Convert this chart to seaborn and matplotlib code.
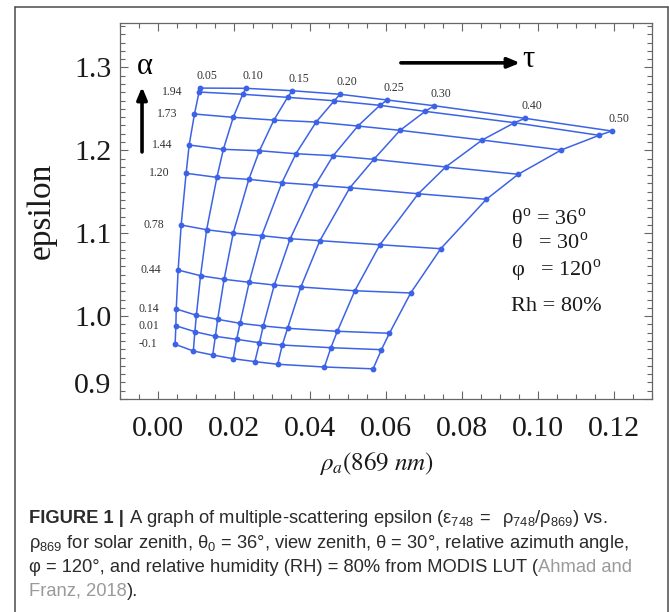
import matplotlib
matplotlib.use("Agg")
import matplotlib.pyplot as plt
from matplotlib.lines import Line2D
from matplotlib.ticker import MultipleLocator
import numpy as np
import pandas as pd
import seaborn as sns

# ---------------- data ----------------
alpha_labels = ["", "1.94", "1.73", "1.44", "1.20", "0.78", "0.44", "0.14", "0.01", "-0.1"]
tau_labels = ["0.05", "0.10", "0.15", "0.20", "0.25", "0.30", "0.40", "0.50"]

rho_row1 = [0.0111, 0.0231, 0.0353, 0.0479, 0.0603, 0.0727, 0.0966, 0.1194]
eps_row1 = [1.2751, 1.2748, 1.2719, 1.2676, 1.2607, 1.2538, 1.2386, 1.2233]
rho_row2 = [0.0108, 0.0223, 0.0341, 0.0464, 0.0584, 0.0703, 0.0938, 0.1161]
eps_row2 = [1.2703, 1.2676, 1.2639, 1.2598, 1.2543, 1.2470, 1.2333, 1.2181]
rho_row3 = [0.0096, 0.0198, 0.0305, 0.0416, 0.0526, 0.0637, 0.0853, 0.1061]
eps_row3 = [1.2438, 1.2398, 1.2365, 1.2341, 1.2293, 1.2241, 1.2124, 1.2004]
rho_row4 = [0.0082, 0.0172, 0.0267, 0.0363, 0.0461, 0.0568, 0.0757, 0.0948]
eps_row4 = [1.2064, 1.2012, 1.1995, 1.1959, 1.1935, 1.1891, 1.1799, 1.1711]
rho_row5 = [0.0074, 0.0155, 0.0239, 0.0326, 0.0414, 0.0505, 0.0685, 0.0864]
eps_row5 = [1.1723, 1.1674, 1.1650, 1.1609, 1.1581, 1.1549, 1.1476, 1.1409]
rho_row6 = [0.0061, 0.0128, 0.0198, 0.0273, 0.0348, 0.0426, 0.0584, 0.0744]
eps_row6 = [1.1099, 1.1042, 1.1002, 1.0970, 1.0934, 1.0910, 1.0861, 1.0813]
rho_row7 = [0.0053, 0.0112, 0.0174, 0.0240, 0.0306, 0.0376, 0.0518, 0.0665]
eps_row7 = [1.0556, 1.0487, 1.0444, 1.0408, 1.0375, 1.0351, 1.0306, 1.0279]
rho_row8 = [0.0048, 0.0101, 0.0157, 0.0216, 0.0277, 0.0341, 0.0472, 0.0609]
eps_row8 = [1.0086, 1.0010, 0.9961, 0.9913, 0.9881, 0.9853, 0.9817, 0.9793]
rho_row9 = [0.0047, 0.0097, 0.0151, 0.0207, 0.0267, 0.0327, 0.0455, 0.0588]
eps_row9 = [0.9884, 0.9812, 0.9756, 0.9720, 0.9679, 0.9651, 0.9619, 0.9595]
rho_row10 = [0.0045, 0.0093, 0.0144, 0.0198, 0.0255, 0.0315, 0.0438, 0.0566]
eps_row10 = [0.9660, 0.9579, 0.9531, 0.9486, 0.9451, 0.9419, 0.9386, 0.9364]

rho_rows = [rho_row1, rho_row2, rho_row3, rho_row4, rho_row5,
            rho_row6, rho_row7, rho_row8, rho_row9, rho_row10]
eps_rows = [eps_row1, eps_row2, eps_row3, eps_row4, eps_row5,
            eps_row6, eps_row7, eps_row8, eps_row9, eps_row10]

records = []
for i, (rr, ee) in enumerate(zip(rho_rows, eps_rows)):
    for j, (r, e) in enumerate(zip(rr, ee)):
        records.append({"rho": r, "eps": e, "row": i, "col": j})
df = pd.DataFrame(records)
df_cols = df.sort_values(["col", "row"]).reset_index(drop=True)

# ---------------- style ----------------
sns.set_theme(style="ticks")
plt.rcParams["font.family"] = ["Liberation Serif", "DejaVu Serif"]
plt.rcParams["mathtext.fontset"] = "stix"

BLUE = "#3c63e6"
SPINE = "#666666"
W, H = 669, 612
fig = plt.figure(figsize=(W / 100, H / 100), dpi=100)
fig.patch.set_facecolor("white")

L, R, T, B = 120, 652, 23, 399
ax = fig.add_axes([L / W, 1 - B / H, (R - L) / W, (B - T) / H])

sns.lineplot(data=df, x="rho", y="eps", units="row", estimator=None, sort=False,
             color=BLUE, lw=1.1, marker="o", markersize=4.2, markeredgewidth=0,
             ax=ax)
sns.lineplot(data=df_cols, x="rho", y="eps", units="col", estimator=None, sort=False,
             color=BLUE, lw=1.1, ax=ax)

ax.set_xlim(-0.01, 0.13)
ax.set_ylim(0.9, 1.3536)
ax.xaxis.set_major_locator(MultipleLocator(0.02))
ax.xaxis.set_minor_locator(MultipleLocator(0.005))
ax.yaxis.set_major_locator(MultipleLocator(0.1))
ax.yaxis.set_minor_locator(MultipleLocator(0.01))
ax.set_xticks([0.0, 0.02, 0.04, 0.06, 0.08, 0.10, 0.12])
ax.set_xticklabels(["0.00", "0.02", "0.04", "0.06", "0.08", "0.10", "0.12"])
ax.set_yticks([0.9, 1.0, 1.1, 1.2, 1.3])
ax.set_yticklabels(["0.9", "1.0", "1.1", "1.2", "1.3"])
ax.tick_params(which="both", direction="in", top=True, right=True, color=SPINE,
               width=0.8)
ax.tick_params(which="major", length=6, labelsize=21.5, labelcolor="#1a1a1a")
ax.tick_params(axis="x", which="major", pad=12)
ax.tick_params(axis="y", which="major", pad=6)
ax.tick_params(which="minor", length=3.5)
for s in ax.spines.values():
    s.set_color(SPINE)
    s.set_linewidth(0.9)
# the lowest y label sits a little above the bottom edge in the reference
for lab in ax.get_yticklabels():
    if lab.get_text() == "0.9":
        lab.set_verticalalignment("bottom")

ax.set_ylabel("epsilon", fontsize=24, color="#1a1a1a")
ax.yaxis.set_label_coords(-0.118, 0.5)
ax.set_xlabel(r"$\rho_a(869\ nm)$", fontsize=18, color="#1a1a1a")
ax.xaxis.set_label_coords(0.483, -0.135)

# alpha labels at the left of every row
for lab, rr, ee in zip(alpha_labels, rho_rows, eps_rows):
    if lab:
        ax.annotate(lab, (rr[0], ee[0]), xytext=(-27, 0), textcoords="offset pixels",
                    ha="center", va="center", fontsize=8.5, color="#333333")
# tau labels above the top row
for lab, r, e in zip(tau_labels, rho_row1, eps_row1):
    ax.annotate(lab, (r, e), xytext=(7, 12), textcoords="offset pixels",
                ha="center", va="center", fontsize=8.5, color="#333333")

# arrows and symbols
ax.annotate("", xy=(0.0414, 0.830), xytext=(0.0414, 0.657), xycoords="axes fraction",
            arrowprops=dict(arrowstyle="-|>,head_width=0.25,head_length=0.6",
                            color="black", lw=2.6, shrinkA=0, shrinkB=0))
ax.text(0.047, 0.884, "α", transform=ax.transAxes, fontsize=22, ha="center",
        va="center", color="black")
ax.annotate("", xy=(0.752, 0.894), xytext=(0.528, 0.894), xycoords="axes fraction",
            arrowprops=dict(arrowstyle="-|>,head_width=0.25,head_length=0.6",
                            color="black", lw=2.6, shrinkA=0, shrinkB=0))
ax.text(0.768, 0.902, "τ", transform=ax.transAxes, fontsize=22, ha="center",
        va="center", color="black")

params = [r"θ$^{\mathregular{o}}$ = 36$^{\mathregular{o}}$",
          r"θ   = 30$^{\mathregular{o}}$",
          r"φ   = 120$^{\mathregular{o}}$",
          "Rh = 80%"]
for txt, yy in zip(params, [0.481, 0.415, 0.343, 0.245]):
    ax.text(0.735, yy, txt, transform=ax.transAxes, fontsize=16, ha="left",
            va="center", color="#1a1a1a")

# ---------------- figure frame ----------------
fc = "#4a4a4a"
fig.add_artist(Line2D([14.5 / W, 14.5 / W], [0, 1 - 6.5 / H], color=fc, lw=1.1,
                      transform=fig.transFigure))
fig.add_artist(Line2D([667.5 / W, 667.5 / W], [0, 1 - 6.5 / H], color=fc, lw=1.1,
                      transform=fig.transFigure))
fig.add_artist(Line2D([14.5 / W, 667.5 / W], [1 - 6.5 / H, 1 - 6.5 / H], color=fc,
                      lw=1.1, transform=fig.transFigure))

# ---------------- caption ----------------
CAP_FONT = ["Liberation Sans", "DejaVu Sans"]
CAP_SIZE = 13.2
DARK = "#2b2b2b"
GREY = "#9a9a9a"
renderer = fig.canvas.get_renderer()


def caption_line(y_px, segments):
    x = 29 / W
    for txt, weight, color, gap in segments:
        x += gap / W
        t = fig.text(x, 1 - y_px / H, txt, fontsize=CAP_SIZE, fontweight=weight,
                     color=color, family=CAP_FONT, ha="left", va="baseline")
        bb = t.get_window_extent(renderer)
        x = bb.x1 / W


caption_line(523, [
    ("FIGURE 1 |", "bold", DARK, 0),
    (r"A graph of multiple-scattering epsilon ($\mathregular{ε_{748}\ =\ \ ρ_{748}/ρ_{869}}$) vs.",
     "normal", DARK, 5),
])
caption_line(548, [
    (r"$\mathregular{ρ_{869}}$ for solar zenith, $\mathregular{θ_0}$ = 36°, view zenith, θ = 30°, relative azimuth angle,",
     "normal", DARK, 0),
])
caption_line(572, [
    ("φ = 120°, and relative humidity (RH) = 80% from MODIS LUT (", "normal", DARK, 0),
    ("Ahmad and", "normal", GREY, 0.5),
])
caption_line(596, [
    ("Franz, 2018", "normal", GREY, 0),
    (").", "normal", DARK, 0.5),
])

fig.savefig("out.png", dpi=100, facecolor="white")
